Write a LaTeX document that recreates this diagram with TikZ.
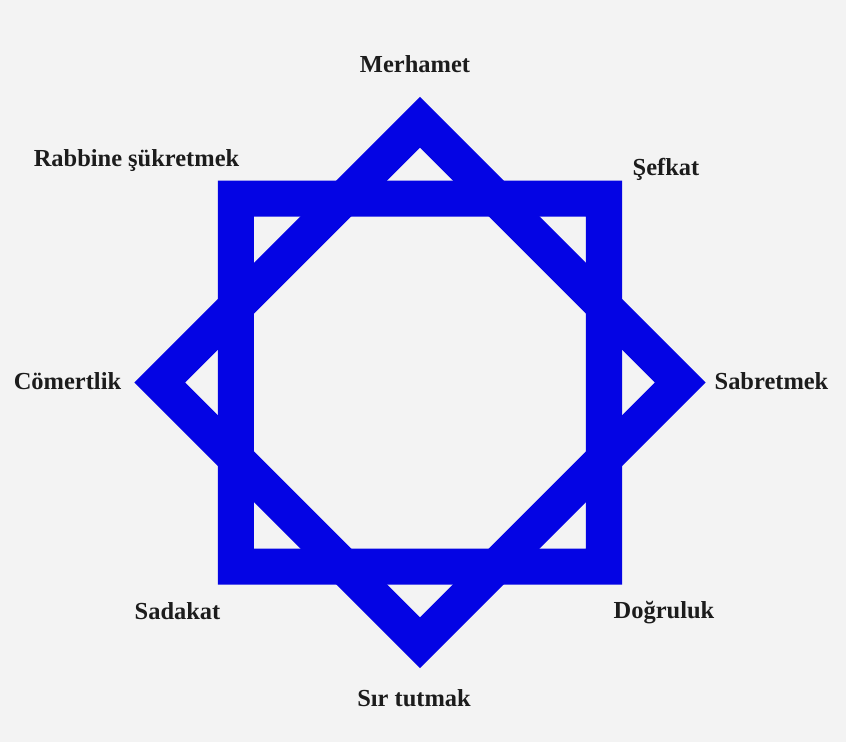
\documentclass[tikz,border=0pt]{standalone}
\usepackage{fontspec}
\setmainfont{Liberation Serif}
\usepackage{tikz}
\usetikzlibrary{positioning, calc}
\definecolor{fondo}{HTML}{F3F3F3}
\definecolor{azulyildiz}{HTML}{0404E4}
\definecolor{tinta}{HTML}{1C1C1C}
\tikzset{
  erdem/.style={anchor=base, inner sep=0pt, text=tinta, font=\fontsize{17.4}{20}\selectfont\bfseries},
  halka/.style={fill=azulyildiz, even odd rule}
}

\begin{document}
\begin{tikzpicture}
  \fill [fondo] (-10.5,-8.9875) rectangle (10.65,9.5625);
  \useasboundingbox (-10.5,-8.9875) rectangle (10.65,9.5625);
  % the two squares of the star
  \fill [halka] (-5.05,-5.05) rectangle (5.05,5.05) (-4.15,-4.15) rectangle (4.15,4.15);
  \fill [halka, rotate=45] (-5.05,-5.05) rectangle (5.05,5.05) (-4.15,-4.15) rectangle (4.15,4.15);
  % labels
  \node (merhamet) [erdem] at (-0.125,7.7625) {Merhamet};
  \node (sefkat) [erdem] at (6.15,5.1875) {Şefkat};
  \node (sabret) [erdem] at (8.7875,-0.1625) {Sabretmek};
  \node (dogru) [erdem] at (6.1,-5.8875) {Doğruluk};
  \node (sir) [erdem] at (-0.15,-8.0875) {Sır tutmak};
  \node (sadakat) [erdem] at (-6.0625,-5.9125) {Sadakat};
  \node (comert) [erdem] at (-8.8125,-0.1625) {Cömertlik};
  \node (sukret) [erdem] at (-7.0875,5.4125) {Rabbine şükretmek};
\end{tikzpicture}
\end{document}
